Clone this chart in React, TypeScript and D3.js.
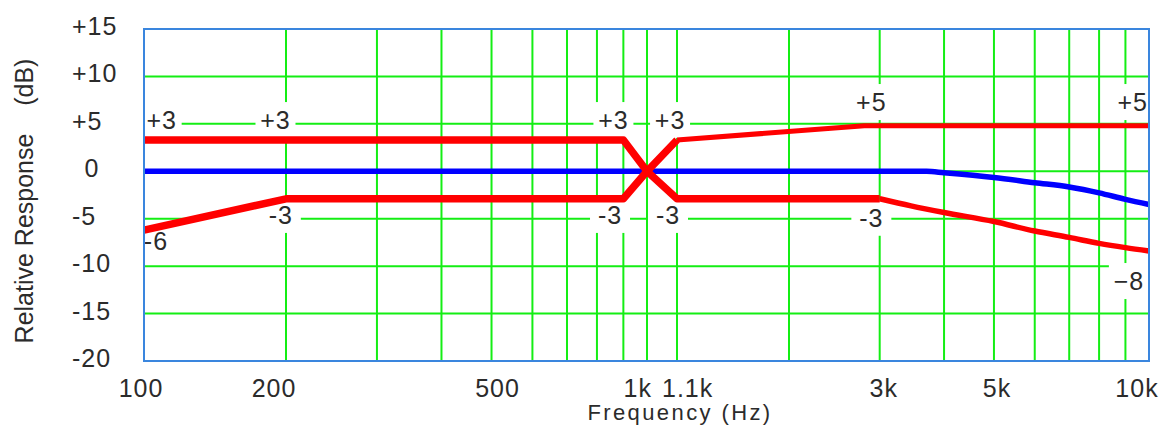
import { useRef, useEffect } from "react";
import * as d3 from "d3";

// grid lines
const gridFreqs = [200, 300, 400, 500, 600, 700, 800, 900, 1000, 1100, 2000, 3000, 4000, 5000, 6000, 7000, 8000, 9000];
const gridLevels = [10, 5, 0, -5, -10, -15];

// axis ticks
const yTicks = [15, 10, 5, 0, -5, -10, -15, -20];
const yTickLabels = ["+15", "+10", "+5", "0", "-5", "-10", "-15", "-20"];
const xTicks = [100, 200, 500, 1000, 1100, 3000, 5000, 10000];
const xTickLabels = ["100", "200", "500", "1k", "1.1k", "3k", "5k", "10k"];

// flat response (blue)
const flatFreq = [100, 3700, 4000, 5000, 6000, 7000, 8000, 9000, 10000];
const flatDb = [0, 0, -0.15, -0.65, -1.2, -1.65, -2.27, -2.96, -3.5];

// red curve starting at +3
const boostLowFreq = [100, 900, 1000, 1100, 3000];
const boostLowDb = [3.3, 3.3, 0, -2.9, -2.9];
const cutHighFreq = [3000, 3450, 4000, 5000, 6000, 7000, 8000, 9000, 10000];
const cutHighDb = [-2.9, -3.65, -4.35, -5.3, -6.3, -6.97, -7.6, -8.05, -8.4];

// red curve starting at -6
const cutLowFreq = [100, 200, 900, 1000, 1100];
const cutLowDb = [-6.2, -2.9, -2.9, 0, 3.3];
const boostHighFreq = [1100, 2800, 10000];
const boostHighDb = [3.3, 4.8, 4.8];

// annotations on the curves
const noteText = ["+3", "+3", "+3", "+3", "+5", "+5", "-6", "-3", "-3", "-3", "-3", "\u22128"];
const noteFreq = [109, 190, 861, 1076, 2890, 9300, 106, 195, 848, 1069, 2890, 9140];
const noteDb = [5.4, 5.4, 5.4, 5.4, 7.3, 7.3, -7.35, -4.6, -4.6, -4.6, -4.9, -11.57];

const FONT = "'Liberation Sans', Arial, sans-serif";
const TEXT = "#2b2b2b";
const GREEN = "#14ee14";

const App = () => {
  const svgRef = useRef<SVGSVGElement>(null);

  useEffect(() => {
    const svg = d3.select(svgRef.current);
    svg.selectAll("*").remove();

    const left = 144,
      right = 1149,
      top = 29,
      bottom = 361;

    // the printed grid is not a perfect log scale, so a piecewise log scale follows it
    const x = d3
      .scaleLog()
      .domain([100, 200, 1000, 1100, 2000, 10000])
      .range([left, 286, 647, 677, 789, right]);
    const y = d3.scaleLinear().domain([15, -20]).range([top, bottom]);

    svg.append("rect").attr("width", 1173).attr("height", 430).attr("fill", "#fff");

    // grid
    svg
      .append("g")
      .selectAll("line")
      .data(gridFreqs)
      .join("line")
      .attr("x1", (d) => x(d))
      .attr("x2", (d) => x(d))
      .attr("y1", top)
      .attr("y2", bottom)
      .attr("stroke", GREEN)
      .attr("stroke-width", 2);

    svg
      .append("g")
      .selectAll("line")
      .data(gridLevels)
      .join("line")
      .attr("x1", left)
      .attr("x2", right)
      .attr("y1", (d) => y(d))
      .attr("y2", (d) => y(d))
      .attr("stroke", GREEN)
      .attr("stroke-width", 2);

    // white boxes behind annotations (the -3 near 200 Hz has a wider one)
    const notes = noteText.map((t, i) => ({ t, f: noteFreq[i], db: noteDb[i], wide: i === 7 }));
    svg
      .append("g")
      .selectAll("rect")
      .data(notes)
      .join("rect")
      .attr("x", (d) => x(d.f) - (d.wide ? 74 : 20))
      .attr("y", (d) => y(d.db) - 18)
      .attr("width", (d) => (d.wide ? 94 : 40))
      .attr("height", 36)
      .attr("fill", "#fff");

    const line = d3
      .line<[number, number]>()
      .x((d) => x(d[0]))
      .y((d) => y(d[1]));
    const smooth = d3
      .line<[number, number]>()
      .x((d) => x(d[0]))
      .y((d) => y(d[1]))
      .curve(d3.curveMonotoneX);

    const series = [
      { f: flatFreq, v: flatDb, color: "#0000ff", w: 5.5, gen: smooth },
      { f: boostLowFreq, v: boostLowDb, color: "#ff0000", w: 7.5, gen: line },
      { f: cutHighFreq, v: cutHighDb, color: "#ff0000", w: 5.5, gen: smooth },
      { f: cutLowFreq, v: cutLowDb, color: "#ff0000", w: 7.5, gen: line },
      { f: boostHighFreq, v: boostHighDb, color: "#ff0000", w: 5, gen: line },
    ];

    svg
      .append("g")
      .selectAll("path")
      .data(series)
      .join("path")
      .attr("d", (s) => s.gen(s.f.map((f, i) => [f, s.v[i]] as [number, number])))
      .attr("fill", "none")
      .attr("stroke", (s) => s.color)
      .attr("stroke-width", (s) => s.w)
      .attr("stroke-linejoin", "round");

    // annotation text
    svg
      .append("g")
      .selectAll("text")
      .data(notes)
      .join("text")
      .attr("x", (d) => x(d.f))
      .attr("y", (d) => y(d.db))
      .attr("dy", "0.36em")
      .attr("text-anchor", "middle")
      .attr("font-family", FONT)
      .attr("font-size", 25)
      .attr("letter-spacing", 1)
      .attr("fill", TEXT)
      .text((d) => d.t);

    // plot frame
    svg
      .append("rect")
      .attr("x", left)
      .attr("y", top)
      .attr("width", right - left)
      .attr("height", bottom - top)
      .attr("fill", "none")
      .attr("stroke", "#3a86de")
      .attr("stroke-width", 2);

    // y tick labels
    svg
      .append("g")
      .selectAll("text")
      .data(yTicks)
      .join("text")
      .attr("x", (d) => (d === 0 ? 92 : 72))
      .attr("y", (d) => y(d) - 3)
      .attr("dy", "0.36em")
      .attr("text-anchor", (d) => (d === 0 ? "middle" : "start"))
      .attr("font-family", FONT)
      .attr("font-size", 25)
      .attr("letter-spacing", 1)
      .attr("fill", TEXT)
      .text((d, i) => yTickLabels[i]);

    // x tick labels, nudged like the original where they would collide
    const nudge: Record<string, [number, string]> = {
      "100": [-3, "middle"],
      "200": [-12, "middle"],
      "500": [6, "middle"],
      "1k": [5, "end"],
      "1.1k": [-15, "start"],
      "3k": [4, "middle"],
      "5k": [3, "middle"],
      "10k": [-12, "middle"],
    };
    svg
      .append("g")
      .selectAll("text")
      .data(xTicks)
      .join("text")
      .attr("x", (d, i) => x(d) + nudge[xTickLabels[i]][0])
      .attr("y", 397)
      .attr("text-anchor", (d, i) => nudge[xTickLabels[i]][1])
      .attr("font-family", FONT)
      .attr("font-size", 25)
      .attr("letter-spacing", 1)
      .attr("fill", TEXT)
      .text((d, i) => xTickLabels[i]);

    // axis titles
    svg
      .append("text")
      .attr("x", 680)
      .attr("y", 420)
      .attr("text-anchor", "middle")
      .attr("font-family", FONT)
      .attr("font-size", 22)
      .attr("letter-spacing", 2.4)
      .attr("fill", TEXT)
      .text("Frequency (Hz)");

    svg
      .append("text")
      .attr("transform", "translate(33,201) rotate(-90)")
      .attr("text-anchor", "middle")
      .attr("font-family", FONT)
      .attr("font-size", 25)
      .attr("fill", TEXT)
      .attr("xml:space", "preserve")
      .style("white-space", "pre")
      .text("Relative Response    (dB)");
  }, []);

  return (
    <svg
      ref={svgRef}
      width={1173}
      height={430}
      style={{ position: "absolute", left: 0, top: 0, display: "block" }}
    ></svg>
  );
};

export default App;
